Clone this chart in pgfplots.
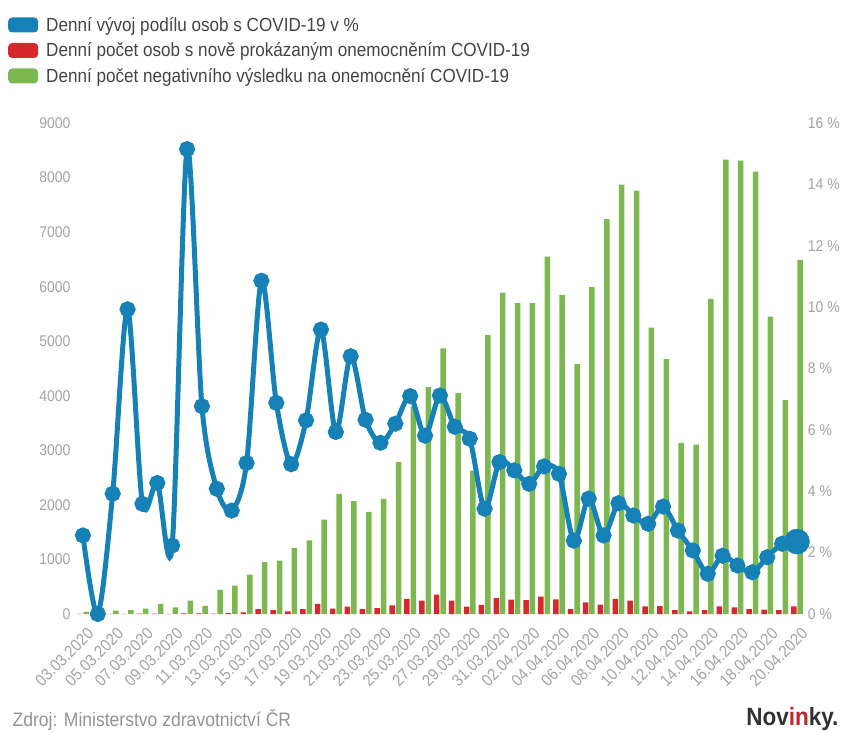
\documentclass[border=0pt]{standalone}
\usepackage{fontspec}
\setmainfont{Liberation Sans}[FakeStretch=0.9]
\usepackage{pgfplots}
\pgfplotsset{compat=1.18}
\usepackage{pgfplotstable}

\definecolor{cblue}{HTML}{1681B6}
\definecolor{cred}{HTML}{D7282D}
\definecolor{cgreen}{HTML}{7CB84F}
\definecolor{tickgray}{HTML}{A3A3A3}
\definecolor{textgray}{HTML}{444444}

% n = day index from 03.03.2020, neg = negative tests, pos = new cases, pct = share in %
\pgfplotstableread{
n neg pos pct
0 40 2 2.56
1 20 0 0
2 60 2 3.92
3 70 1 9.93
4 100 6 3.59
5 185 7 4.27
6 120 4 2.23
7 245 12 15.15
8 150 10 6.77
9 440 5 4.08
10 520 15 3.37
11 720 30 4.92
12 950 90 10.86
13 980 70 6.88
14 1210 50 4.88
15 1350 90 6.31
16 1730 185 9.27
17 2200 100 5.93
18 2070 135 8.40
19 1870 90 6.33
20 2110 110 5.58
21 2790 160 6.20
22 3800 275 7.10
23 4160 245 5.81
24 4870 355 7.12
25 4050 245 6.10
26 2630 135 5.71
27 5110 165 3.43
28 5890 290 4.95
29 5700 265 4.68
30 5700 255 4.24
31 6550 320 4.81
32 5850 270 4.57
33 4580 90 2.39
34 5990 215 3.76
35 7240 170 2.56
36 7870 275 3.61
37 7760 245 3.21
38 5250 140 2.94
39 4670 145 3.50
40 3135 70 2.72
41 3105 50 2.07
42 5775 70 1.31
43 8330 140 1.90
44 8310 120 1.58
45 8110 90 1.36
46 5450 80 1.85
47 3920 70 2.29
48 6490 140 2.36
}\data

\pgfplotsset{
  base/.style={
    at={(74pt,117pt)}, anchor=south west,
    scale only axis, width=730.4pt, height=491pt,
    xmin=-0.6, xmax=48.5,
    axis line style={draw=none},
    major tick length=0pt,
    clip=false,
    /pgf/number format/assume math mode=true,
    /pgf/number format/1000 sep={},
    scaled y ticks=false,
    ticklabel style={text=tickgray, font=\fontsize{15.5}{15.5}\selectfont},
  },
  leg/.style={legend image code/.code={
      \path[fill=#1, draw=none, rounded corners=4pt] (0pt,-7.5pt) rectangle (30pt,7.5pt);
      \path[draw=none, fill=none] (0pt,0pt) -- (35pt,0pt);}},
}

\begin{document}
\begin{tikzpicture}
\path[use as bounding box] (0pt,0pt) rectangle (843pt,731pt);

\begin{axis}[base,
    ymin=0, ymax=9000,
    axis y line*=left, axis x line*=bottom,
    ytick={0,1000,...,9000},
    xtick={0,2,...,48},
    xticklabels={03.03.2020,05.03.2020,07.03.2020,09.03.2020,11.03.2020,
      13.03.2020,15.03.2020,17.03.2020,19.03.2020,21.03.2020,23.03.2020,
      25.03.2020,27.03.2020,29.03.2020,31.03.2020,02.04.2020,04.04.2020,
      06.04.2020,08.04.2020,10.04.2020,12.04.2020,14.04.2020,16.04.2020,
      18.04.2020,20.04.2020},
    xticklabel style={rotate=45, anchor=north east, font=\fontsize{16.5}{16.5}\selectfont, xshift=-3pt, yshift=-8pt},
    ybar, bar width=5.5pt,
  ]
\addplot[fill=cred, draw=none, bar shift=-3.2pt] table[x=n, y=pos] {\data};
\addplot[fill=cgreen, draw=none, bar shift=3.2pt] table[x=n, y=neg] {\data};
\end{axis}

\begin{axis}[base,
    ymin=0, ymax=16,
    axis y line*=right, axis x line=none,
    ytick={0,2,...,16},
    yticklabel={\pgfmathprintnumber{\tick}\ \%},
    legend style={at={(-0.0945,1.226)}, anchor=north west, draw=none, fill=none,
      font=\fontsize{19}{19}\selectfont, text=textgray, row sep=4pt,
      nodes={inner sep=3pt}},
    legend cell align=left,
  ]
\addlegendimage{leg=cblue}
\addlegendentry{Denní vývoj podílu osob s COVID-19 v \%}
\addlegendimage{leg=cred}
\addlegendentry{Denní počet osob s nově prokázaným onemocněním COVID-19}
\addlegendimage{leg=cgreen}
\addlegendentry{Denní počet negativního výsledku na onemocnění COVID-19}
\addplot[forget plot, cblue, line width=5pt, smooth, tension=0.5, mark=*, mark size=5.5pt,
  mark options={fill=cblue, draw=none}] table[x=n, y=pct] {\data};
\addplot[forget plot, only marks, color=cblue, mark=*, mark size=12.5pt,
  mark options={solid, fill=cblue, draw=cblue, line width=0.5pt}]
  coordinates {(48,2.36)};
\end{axis}

\node[anchor=base west, text=tickgray!90!black, font=\fontsize{19.5}{19.5}\selectfont] at (9pt,5pt) {Zdroj: Ministerstvo zdravotnictví ČR};
\node[anchor=base east, text=black!80, font=\fontsize{25}{25}\selectfont\bfseries] at (842pt,6pt) {Nov\textcolor{cred!90!black}{in}ky.};
\end{tikzpicture}
\end{document}
